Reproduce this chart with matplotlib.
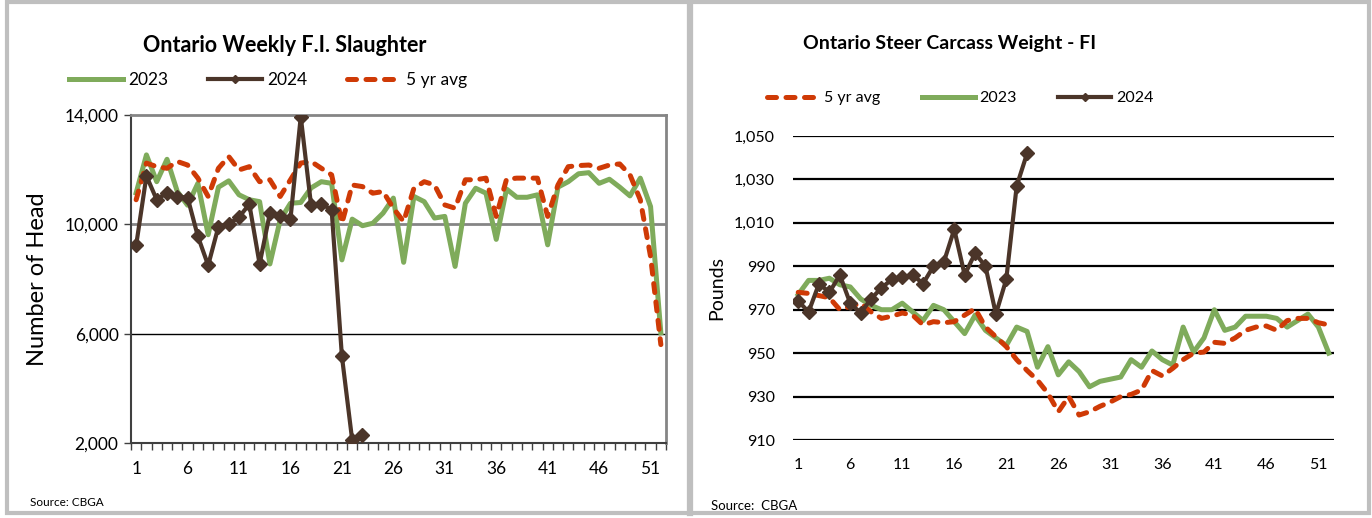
import matplotlib
matplotlib.use('Agg')
import matplotlib.pyplot as plt
from matplotlib.lines import Line2D
from matplotlib.ticker import FuncFormatter, FixedLocator

plt.rcParams['font.family'] = ['Lato', 'DejaVu Sans']

# =============================================================================
# Data

weeks = list(range(1, 53))
week_labels = [1, 6, 11, 16, 21, 26, 31, 36, 41, 46, 51]

# Ontario weekly F.I. slaughter (head)
slaughter_2023 = [11150, 12540, 11560, 12380, 11200, 10700, 11500, 9620, 11360, 11590,
                  11080, 10900, 10830, 8550, 10160, 10770, 10800, 11330, 11560, 11500,
                  8700, 10190, 9950, 10040, 10410, 10960, 8610, 11020, 10830, 10230,
                  10290, 8460, 10770, 11320, 11140, 9450, 11290, 10990, 10990, 11080,
                  9250, 11360, 11560, 11850, 11890, 11500, 11650, 11360, 11040, 11690,
                  10650, 6030]
slaughter_2024 = [9230, 11770, 10900, 11160, 11010, 10980, 9560, 8500, 9920, 10010,
                  10260, 10740, 8550, 10410, 10300, 10200, 13940, 10710, 10750, 10530,
                  5170, 2100, 2310]
slaughter_5yr = [10900, 12240, 12110, 12050, 12300, 12170, 11690, 11020, 12050, 12480,
                 11990, 12110, 11560, 11630, 11020, 11630, 12240, 12300, 12050, 11810,
                 10040, 11440, 11380, 11140, 11200, 10590, 10100, 11320, 11560, 11440,
                 10710, 10590, 11630, 11630, 11690, 10290, 11650, 11690, 11690, 11690,
                 10290, 11440, 12110, 12150, 12170, 12050, 12170, 12210, 11810, 10900,
                 8820, 5600]

# Ontario steer carcass weight (lb)
weight_2023 = [977, 983.5, 983.5, 984.5, 981.5, 980.5, 975, 972, 970, 970,
               973, 969, 965, 972, 970, 964.5, 959, 967.5, 960.5, 957,
               953.5, 962, 960, 943.5, 953, 940, 946, 941.5, 934.5, 937,
               938, 939, 947, 943.5, 951, 947, 944.5, 962, 950.5, 957,
               970, 960.5, 962, 967, 967, 967, 966, 962, 965, 968,
               962, 950]
weight_2024 = [974, 969, 982, 978, 986, 973, 968.5, 975, 980, 984,
               985, 986, 982, 990, 992, 1007, 986, 996, 990, 968,
               984, 1027, 1042]
weight_5yr = [978, 977.5, 976.5, 975.5, 970, 971.5, 973, 969, 966, 967,
              968.5, 967.5, 963, 964.5, 964, 964.5, 967.5, 970.5, 962, 957.5,
              953, 947, 942, 937.5, 931.5, 923, 930, 921.5, 923, 925.5,
              927.5, 930, 931, 933, 942, 939.5, 943, 947, 950, 950.5,
              955, 954.5, 957, 960.5, 962, 962.5, 960.5, 965, 966, 966,
              964, 963]

# =============================================================================

GREEN = '#7FAB5B'
BROWN = '#4B3529'
RED = '#CF3A06'
W, H = 1372, 518


def px(x0, y0, x1, y1):
    """pixel box (top-left origin) -> figure fraction rect"""
    return [x0 / W, 1 - y1 / H, (x1 - x0) / W, (y1 - y0) / H]


def thousands(v, pos):
    return '{:,.0f}'.format(v)


def draw_series(ax, which):
    lines = {}
    if which == 'left':
        d23, d24, d5 = slaughter_2023, slaughter_2024, slaughter_5yr
    else:
        d23, d24, d5 = weight_2023, weight_2024, weight_5yr
    lines['2023'], = ax.plot(weeks[:len(d23)], d23, color=GREEN, lw=3.6,
                             solid_joinstyle='round', zorder=3)
    lines['5 yr avg'], = ax.plot(weeks[:len(d5)], d5, color=RED, lw=3.6,
                                 linestyle=(0, (1.8, 1.9)), dash_capstyle='round',
                                 zorder=4)
    lines['2024'], = ax.plot(weeks[:len(d24)], d24, color=BROWN, lw=3.0,
                             marker='D', ms=7, mec=BROWN, zorder=5)
    return lines


fig = plt.figure(figsize=(W / 100, H / 100), dpi=100)

# panel frames
frame = '#BFBFBF'
for (x0, x1) in [(7, 690), (690, 1369)]:
    fig.add_artist(plt.Rectangle((x0 / W, 5 / H), (x1 - x0) / W, 511 / H,
                                 transform=fig.transFigure, fill=False,
                                 edgecolor=frame, lw=3))
fig.add_artist(Line2D([690 / W, 690 / W], [5 / H, 1 - 4 / H],
                      transform=fig.transFigure, color=frame, lw=4.5))

# ---------------- left chart ----------------
ax1 = fig.add_axes(px(131, 115, 666, 443))
lines1 = draw_series(ax1, 'left')
ax1.set_xlim(0.5, 52.5)
ax1.set_ylim(2000, 14000)
ax1.yaxis.set_major_locator(FixedLocator([2000, 6000, 10000, 14000]))
ax1.yaxis.set_major_formatter(FuncFormatter(thousands))
ax1.set_xticks(week_labels)
ax1.set_xticks([w + 0.5 for w in range(0, 53)], minor=True)
ax1.tick_params(axis='x', which='major', length=0, pad=13, labelsize=12.5)
ax1.tick_params(axis='x', which='minor', length=5, width=1, direction='out',
                color='#404040')
ax1.tick_params(axis='y', length=5, width=1, color='#404040', labelsize=12.5, pad=4)
ax1.axhline(10000, color='#858585', lw=2, zorder=1)
ax1.axhline(6000, color='black', lw=1, zorder=1)
for s in ['top', 'right']:
    ax1.spines[s].set_color('#858585')
    ax1.spines[s].set_linewidth(2)
for s in ['left', 'bottom']:
    ax1.spines[s].set_color('#404040')
    ax1.spines[s].set_linewidth(1.5)
ax1.set_ylabel('Number of Head', fontsize=17, labelpad=12)

fig.text(285 / W, 1 - 45 / H, 'Ontario Weekly F.I. Slaughter', ha='center',
         va='center', fontsize=15.5, fontweight='bold')
fig.legend([lines1['2023'], lines1['2024'], lines1['5 yr avg']],
           ['2023', '2024', '5 yr avg'], loc='center',
           bbox_to_anchor=(268 / W, 1 - 80 / H), ncol=3, frameon=False,
           fontsize=12.5, handlelength=3.1, columnspacing=2.3, handletextpad=0.3,
           markerscale=0.6)
fig.text(30 / W, 1 - 502 / H, 'Source: CBGA', ha='left', va='center', fontsize=8.5)

# ---------------- right chart ----------------
ax2 = fig.add_axes(px(793, 136, 1334, 440))
lines2 = draw_series(ax2, 'right')
ax2.set_xlim(0.5, 52.5)
ax2.set_ylim(910, 1050)
ax2.set_yticks(list(range(910, 1051, 20)))
ax2.yaxis.set_major_formatter(FuncFormatter(thousands))
ax2.set_xticks(week_labels)
ax2.tick_params(axis='both', length=0, labelsize=11.5)
ax2.tick_params(axis='y', pad=13)
ax2.tick_params(axis='x', pad=13)
ax2.grid(axis='y', color='black', lw=1.6, zorder=0)
ax2.set_axisbelow(True)
for s in ax2.spines.values():
    s.set_visible(False)
ax2.set_ylabel('Pounds', fontsize=14, labelpad=6)

fig.text(950 / W, 1 - 43 / H, 'Ontario Steer Carcass Weight - FI', ha='center',
         va='center', fontsize=14, fontweight='bold')
fig.legend([lines2['5 yr avg'], lines2['2023'], lines2['2024']],
           ['5 yr avg', '2023', '2024'], loc='center',
           bbox_to_anchor=(960 / W, 1 - 98 / H), ncol=3, frameon=False,
           fontsize=11.5, handlelength=3.3, columnspacing=2.6, handletextpad=0.3,
           markerscale=0.6)
fig.text(711 / W, 1 - 506 / H, 'Source:  CBGA', ha='left', va='center', fontsize=9.5)

plt.savefig('out.png', dpi=100)
